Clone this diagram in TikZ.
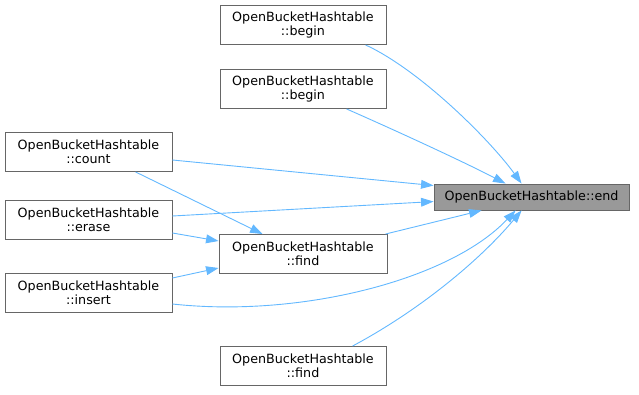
\documentclass[tikz,border=0pt]{standalone}
\usepackage{fontspec}
\setmainfont{DejaVu Sans}
\usetikzlibrary{arrows.meta,calc}
\definecolor{edgeblue}{HTML}{63B8FF}
\definecolor{boxgray}{HTML}{666666}
\definecolor{endfill}{HTML}{999999}
\begin{document}
\begin{tikzpicture}[x=1pt,y=-1pt,
  fn/.style={draw=boxgray, fill=white, line width=0.9pt, minimum width=166pt, minimum height=39pt, inner sep=0pt, align=center, font=\fontsize{12.7}{14.4}\selectfont},
  cur/.style={fn, fill=endfill, minimum width=195pt, minimum height=26pt},
  call/.style={draw=edgeblue, line width=0.9pt, -{Triangle[length=12.5pt,width=8.8pt]}}]
\useasboundingbox (0,0) rectangle (639,395);
\node[fn] (b1) at (303,25) {OpenBucketHashtable\\::begin};
\node[fn] (b2) at (303,89) {OpenBucketHashtable\\::begin};
\node[fn, minimum width=167pt] (count) at (88.5,152) {OpenBucketHashtable\\::count};
\node[fn, minimum width=167pt] (erase) at (88.5,219.5) {OpenBucketHashtable\\::erase};
\node[fn, minimum width=167pt] (insert) at (88.5,293) {OpenBucketHashtable\\::insert};
\node[fn, minimum width=168pt] (find) at (303,254) {OpenBucketHashtable\\::find};
\node[fn] (findb) at (303,366) {OpenBucketHashtable\\::find};
\node[cur] (end) at (531.5,197) {OpenBucketHashtable::end};

\draw[call] ($(b1.south west)+(146,0)$) .. controls (420,70) and (490,140) .. ($(end.north west)+(88,0)$);
\draw[call] ($(b2.south west)+(127,0)$) .. controls (390,128) and (460,160) .. ($(end.north west)+(72,0)$);
\draw[call] ($(count.east)+(0,8)$) -- ($(end.north west)+(0,2)$);
\draw[call] ($(erase.east)+(0,-3.5)$) -- ($(end.north west)+(0,18)$);
\draw[call] ($(erase.east)+(0,13.5)$) -- ($(find.west)+(0,-13)$);
\draw[call] ($(count.south west)+(131,0)$) -- ($(find.north west)+(44,0)$);
\draw[call] ($(insert.east)+(0,-15)$) -- ($(find.west)+(0,14)$);
\draw[call] ($(find.north east)+(-2,0)$) -- ($(end.south west)+(48,0)$);
\draw[call] ($(insert.east)+(0,11)$) .. controls (300,318) and (450,280) .. ($(end.south west)+(82,0)$);
\draw[call] ($(findb.north west)+(133,0)$) .. controls (420,310) and (480,260) .. ($(end.south west)+(88,0)$);
\end{tikzpicture}
\end{document}
